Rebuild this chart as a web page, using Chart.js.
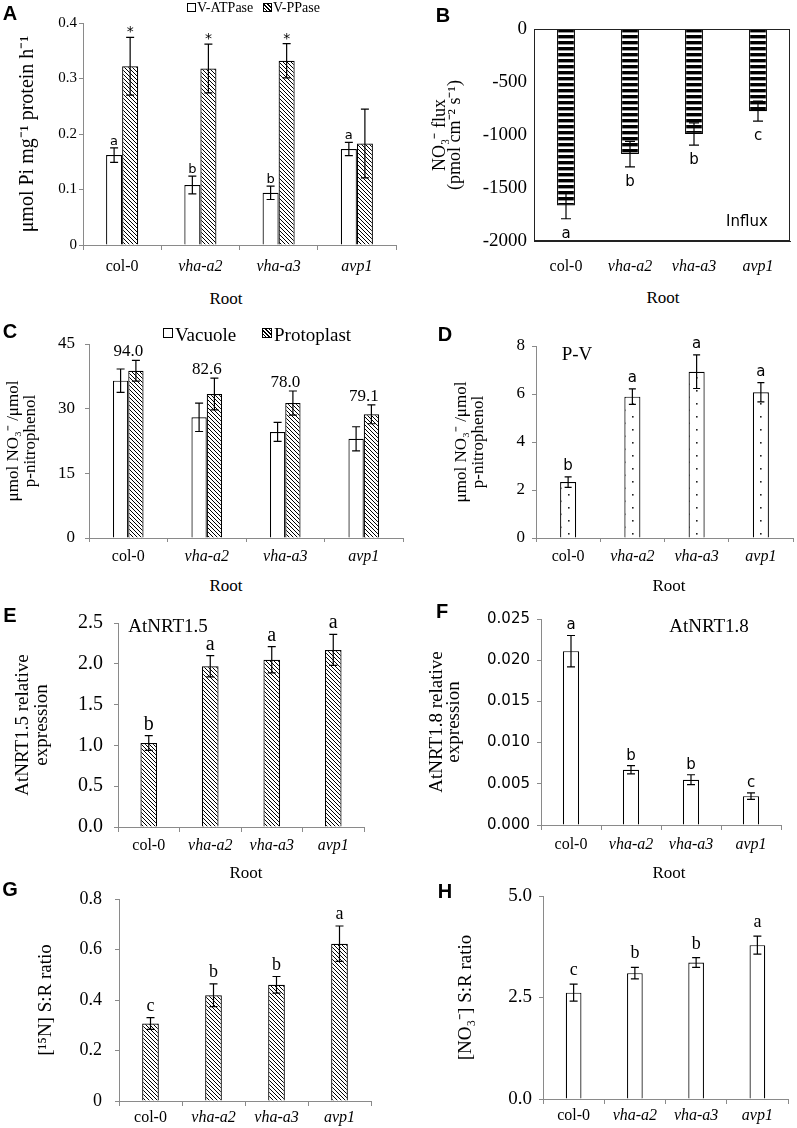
<!DOCTYPE html>
<html>
<head>
<meta charset="utf-8">
<script src="https://cdn.jsdelivr.net/npm/chart.js@4.4.1/dist/chart.umd.min.js"></script>
<style>
  body { margin: 0; background: #fff; }
  #page { position: relative; width: 797px; height: 1128px; overflow: hidden; background: #fff; }
  canvas { position: absolute; }
  .t { position: absolute; white-space: nowrap; color: #000; line-height: 1; }
  .serif { font-family: "Liberation Serif", "Times New Roman", serif; }
  .sans { font-family: "DejaVu Sans", Verdana, sans-serif; }
  .panel { font-family: "Liberation Sans", Arial, sans-serif; font-weight: bold; font-size: 20px; }
  .sw { position: absolute; box-sizing: border-box; border: 1px solid #000; background: #fff; }
  .sw.hatch { background: repeating-linear-gradient(45deg, #fff 0 1.6px, #000 1.6px 2.6px); }
</style>
</head>
<body>
<div id="page"></div>
<script>
// genotypes on every x axis
const categories = ['col-0', 'vha-a2', 'vha-a3', 'avp1'];

// A  hydrolytic activity (umol Pi / mg protein / h)
const atpaseVals = [0.162, 0.108, 0.094, 0.173];
const atpaseErr  = [0.013, 0.016, 0.012, 0.012];
const atpaseSig  = ['a', 'b', 'b', 'a'];
const ppaseVals  = [0.322, 0.318, 0.332, 0.183];
const ppaseErr   = [0.052, 0.044, 0.031, 0.062];
const ppaseSig   = ['*', '*', '*', ''];
const ticksA     = [0, 0.1, 0.2, 0.3, 0.4];

// B  NO3- flux
const fluxVals = [-1665, -1180, -990, -775];
const fluxErr  = [125, 120, 105, 95];
const fluxSig  = ['a', 'b', 'b', 'c'];
const ticksB   = [-2000, -1500, -1000, -500, 0];

// C  vacuole / protoplast nitrate
const vacVals    = [36.5, 28.0, 24.6, 23.0];
const vacErr     = [2.7, 3.3, 2.2, 2.8];
const protoVals  = [38.8, 33.4, 31.3, 28.7];
const protoErr   = [2.4, 3.7, 2.8, 2.2];
const vacPercent = ['94.0', '82.6', '78.0', '79.1'];
const ticksC     = [0, 15, 30, 45];

// D  P-V
const pvVals = [2.33, 5.89, 6.93, 6.07];
const pvErr  = [0.22, 0.32, 0.70, 0.40];
const pvSig  = ['b', 'a', 'a', 'a'];
const ticksD = [0, 2, 4, 6, 8];

// E  AtNRT1.5
const nrt15Vals = [1.03, 1.97, 2.05, 2.17];
const nrt15Err  = [0.09, 0.13, 0.16, 0.19];
const nrt15Sig  = ['b', 'a', 'a', 'a'];
const ticksE    = [0, 0.5, 1.0, 1.5, 2.0, 2.5];

// F  AtNRT1.8
const nrt18Vals = [0.0211, 0.0067, 0.0055, 0.0035];
const nrt18Err  = [0.0019, 0.0005, 0.0006, 0.0004];
const nrt18Sig  = ['a', 'b', 'b', 'c'];
const ticksF    = [0, 0.005, 0.010, 0.015, 0.020, 0.025];

// G  [15N] S:R
const n15Vals = [0.307, 0.419, 0.460, 0.623];
const n15Err  = [0.023, 0.045, 0.033, 0.070];
const n15Sig  = ['c', 'b', 'b', 'a'];
const ticksG  = [0, 0.2, 0.4, 0.6, 0.8];

// H  [NO3-] S:R
const no3Vals = [2.62, 3.10, 3.36, 3.79];
const no3Err  = [0.21, 0.14, 0.12, 0.22];
const no3Sig  = ['c', 'b', 'b', 'a'];
const ticksH  = [0, 2.5, 5.0];

const SERIF = '"Liberation Serif", "Times New Roman", serif';
const SANS = '"DejaVu Sans", Verdana, sans-serif';
const page = document.getElementById('page');

// fill patterns
function makePattern(w, h, draw) {
  const c = document.createElement('canvas');
  c.width = w; c.height = h;
  const g = c.getContext('2d');
  g.fillStyle = '#fff';
  g.fillRect(0, 0, w, h);
  draw(g);
  return g.createPattern(c, 'repeat');
}
const hatch = makePattern(4, 4, g => {
  g.strokeStyle = '#000';
  g.lineWidth = 1;
  g.beginPath();
  g.moveTo(-1, -1); g.lineTo(5, 5);
  g.moveTo(-1, 3); g.lineTo(1, 5);
  g.moveTo(3, -1); g.lineTo(5, 1);
  g.stroke();
});
const stripes = makePattern(4, 6, g => {
  g.fillStyle = '#000';
  g.fillRect(0, 0, 4, 3.4);
});
const dots = makePattern(16, 13, g => {
  g.fillStyle = '#222';
  g.fillRect(3, 3, 1.6, 1.6);
  g.fillRect(11, 9.5, 1.6, 1.6);
});

// error bars, significance letters, numbers over groups
const marksPlugin = {
  id: 'marks',
  afterDatasetsDraw(chart, args, o) {
    const ctx = chart.ctx, ys = chart.scales.y, xs = chart.scales.x;
    const tops = [];
    ctx.save();
    ctx.strokeStyle = '#000';
    ctx.fillStyle = '#000';
    ctx.lineWidth = 1.2;
    ctx.textAlign = 'center';
    ctx.textBaseline = 'alphabetic';
    chart.data.datasets.forEach((ds, i) => {
      chart.getDatasetMeta(i).data.forEach((bar, j) => {
        const x = bar.x;
        const hi = ys.getPixelForValue(ds.data[j] + ds.err[j]);
        const lo = ys.getPixelForValue(ds.data[j] - ds.err[j]);
        ctx.beginPath();
        ctx.moveTo(x, hi); ctx.lineTo(x, lo);
        ctx.moveTo(x - o.cap, hi); ctx.lineTo(x + o.cap, hi);
        ctx.moveTo(x - o.cap, lo); ctx.lineTo(x + o.cap, lo);
        ctx.stroke();
        tops[j] = Math.min(tops[j] === undefined ? Infinity : tops[j], hi);
        const s = ds.sig && ds.sig[j];
        if (s) {
          ctx.font = ds.sigFont;
          if (o.below) ctx.fillText(s, x, lo + ds.sigGap);
          else ctx.fillText(s, x, hi - ds.sigGap);
        }
      });
    });
    if (o.groupText) {
      ctx.font = o.groupFont;
      o.groupText.forEach((t, j) => ctx.fillText(t, xs.getPixelForValue(j), tops[j] - o.groupGap));
    }
    if (o.frame) {
      const a = chart.chartArea;
      ctx.lineWidth = 1;
      ctx.strokeStyle = '#222';
      ctx.strokeRect(Math.round(a.left) + 0.5, Math.round(a.top) + 0.5,
        Math.round(a.right - a.left) - 1, Math.round(a.bottom - a.top) - 1);
    }
    ctx.restore();
  }
};

function makeChart(p) {
  const padTop = 24, xh = 36;
  const top = p.box.t - padTop;
  const cv = document.createElement('canvas');
  cv.width = p.x1 - p.x0;
  cv.height = p.box.b + xh - top;
  cv.style.left = p.x0 + 'px';
  cv.style.top = top + 'px';
  page.appendChild(cv);
  const tf = p.titleFont;
  const lh = tf.size * tf.lineHeight;
  const axisColor = p.axisColor || '#8a8a8a';
  return new Chart(cv, {
    type: 'bar',
    data: { labels: categories, datasets: p.datasets },
    options: {
      responsive: false,
      animation: false,
      events: [],
      layout: { padding: { top: padTop, right: p.x1 - p.box.r, bottom: 0, left: 0 } },
      datasets: { bar: { categoryPercentage: p.cp, barPercentage: 1 } },
      plugins: {
        legend: { display: false },
        tooltip: { enabled: false },
        marks: p.marks
      },
      scales: {
        x: {
          offset: true,
          grid: { offset: true, drawOnChartArea: false, drawTicks: p.xTick > 0, tickLength: p.xTick, color: axisColor },
          border: { color: axisColor },
          ticks: {
            color: '#000', padding: p.xPad, autoSkip: false, maxRotation: 0,
            font: c => ({ family: SERIF, size: 16, style: c.index > 0 ? 'italic' : 'normal' })
          },
          afterFit: s => { s.height = xh; }
        },
        y: {
          min: p.ticks[0],
          max: p.ticks[p.ticks.length - 1],
          afterBuildTicks: s => { s.ticks = p.ticks.map(v => ({ value: v })); },
          grid: { drawOnChartArea: false, drawTicks: p.yTick > 0, tickLength: p.yTick, color: axisColor },
          border: { color: axisColor },
          ticks: { color: '#000', padding: p.yPad, font: p.tickFont, callback: v => p.fmt(v) },
          title: {
            display: true, text: p.title, color: '#000', font: tf,
            padding: { top: p.titleX - p.x0 - lh / 2, bottom: 0 }
          },
          afterFit: s => { s.width = p.box.l - p.x0; }
        }
      }
    },
    plugins: [marksPlugin]
  });
}

function bars(data, err, sig, fill, sigFont, sigGap) {
  return { data, err, sig, sigFont, sigGap, backgroundColor: fill, borderColor: '#000', borderWidth: 1.2 };
}

const fmtPlain = v => String(v);
const fmt1 = v => v.toFixed(1);
const fmt3 = v => v.toFixed(3);

// A
makeChart({
  x0: 0, x1: 410, box: { l: 83, r: 396, t: 23, b: 245 }, cp: 0.41,
  ticks: ticksA, fmt: fmtPlain, tickFont: { family: SERIF, size: 15 }, yTick: 4, yPad: 2,
  xTick: 5, xPad: 7,
  title: 'μmol Pi mg⁻¹ protein h⁻¹', titleX: 28, titleFont: { family: SERIF, size: 20, lineHeight: 1 },
  marks: { cap: 4 },
  datasets: [
    bars(atpaseVals, atpaseErr, atpaseSig, '#fff', '13px ' + SANS, 3),
    bars(ppaseVals, ppaseErr, ppaseSig, hatch, '14px ' + SANS, 1)
  ]
});

// B
makeChart({
  x0: 405, x1: 797, box: { l: 534, r: 790, t: 29, b: 241 }, cp: 0.28, axisColor: '#222',
  ticks: ticksB, fmt: fmtPlain, tickFont: { family: SERIF, size: 19 }, yTick: 0, yPad: 7,
  xTick: 0, xPad: 16,
  title: ['NO₃⁻ flux', '(pmol cm⁻² s⁻¹)'], titleX: 440, titleFont: { family: SERIF, size: 18, lineHeight: 0.85 },
  marks: { cap: 5, below: true, frame: true },
  datasets: [bars(fluxVals, fluxErr, fluxSig, stripes, '15px ' + SANS, 19)]
});

// C
makeChart({
  x0: 0, x1: 410, box: { l: 89, r: 403, t: 344, b: 538 }, cp: 0.39,
  ticks: ticksC, fmt: fmtPlain, tickFont: { family: SERIF, size: 17 }, yTick: 4, yPad: 10,
  xTick: 4, xPad: 5,
  title: ['μmol NO₃⁻ /μmol', 'p-nitrophenol'], titleX: 14, titleFont: { family: SERIF, size: 17, lineHeight: 1 },
  marks: { cap: 4, groupText: vacPercent, groupFont: '17px ' + SERIF, groupGap: 4 },
  datasets: [
    bars(vacVals, vacErr, null, '#fff'),
    bars(protoVals, protoErr, null, hatch)
  ]
});

// D
makeChart({
  x0: 405, x1: 797, box: { l: 536, r: 793, t: 346, b: 538 }, cp: 0.25,
  ticks: ticksD, fmt: fmtPlain, tickFont: { family: SERIF, size: 17 }, yTick: 4, yPad: 7,
  xTick: 4, xPad: 5,
  title: ['μmol NO₃⁻ /μmol', 'p-nitrophenol'], titleX: 462, titleFont: { family: SERIF, size: 17, lineHeight: 0.95 },
  marks: { cap: 3.5 },
  datasets: [bars(pvVals, pvErr, pvSig, dots, '15px ' + SANS, 7)]
});

// E
makeChart({
  x0: 0, x1: 410, box: { l: 118, r: 364, t: 623, b: 827 }, cp: 0.27,
  ticks: ticksE, fmt: fmt1, tickFont: { family: SERIF, size: 20 }, yTick: 4, yPad: 11,
  xTick: 5, xPad: 4,
  title: ['AtNRT1.5 relative', 'expression'], titleX: 23, titleFont: { family: SERIF, size: 19, lineHeight: 1.0 },
  marks: { cap: 4 },
  datasets: [bars(nrt15Vals, nrt15Err, nrt15Sig, hatch, '20px ' + SERIF, 6)]
});

// F
makeChart({
  x0: 405, x1: 797, box: { l: 541, r: 781, t: 619, b: 825 }, cp: 0.27,
  ticks: ticksF, fmt: fmt3, tickFont: { family: SANS, size: 15 }, yTick: 4, yPad: 7,
  xTick: 5, xPad: 5,
  title: ['AtNRT1.8 relative', 'expression'], titleX: 437, titleFont: { family: SERIF, size: 19, lineHeight: 0.92 },
  marks: { cap: 4 },
  datasets: [bars(nrt18Vals, nrt18Err, nrt18Sig, '#fff', '15px ' + SANS, 6)]
});

// G
makeChart({
  x0: 0, x1: 410, box: { l: 119, r: 371, t: 899, b: 1101 }, cp: 0.265,
  ticks: ticksG, fmt: fmtPlain, tickFont: { family: SERIF, size: 18 }, yTick: 4, yPad: 13,
  xTick: 5, xPad: 2,
  title: '[¹⁵N] S:R ratio', titleX: 46, titleFont: { family: SERIF, size: 19, lineHeight: 1 },
  marks: { cap: 4 },
  datasets: [bars(n15Vals, n15Err, n15Sig, hatch, '18px ' + SERIF, 7)]
});

// H
makeChart({
  x0: 405, x1: 797, box: { l: 543, r: 788, t: 896, b: 1099 }, cp: 0.256,
  ticks: ticksH, fmt: fmt1, tickFont: { family: SERIF, size: 19 }, yTick: 4, yPad: 7,
  xTick: 5, xPad: 2,
  title: '[NO₃⁻] S:R ratio', titleX: 466, titleFont: { family: SERIF, size: 19, lineHeight: 1 },
  marks: { cap: 4 },
  datasets: [bars(no3Vals, no3Err, no3Sig, '#fff', '18px ' + SERIF, 9)]
});

// page text: panel letters, "Root" captions, legends, notes
function put(text, x, y, cls, size, anchor) {
  const d = document.createElement('div');
  d.className = 't ' + cls;
  d.textContent = text;
  d.style.left = x + 'px';
  d.style.top = y + 'px';
  if (size) d.style.fontSize = size + 'px';
  d.style.transform = anchor === 'l' ? 'translate(0,-50%)' : 'translate(-50%,-50%)';
  page.appendChild(d);
}
function swatch(x, y, s, hatched) {
  const d = document.createElement('div');
  d.className = 'sw' + (hatched ? ' hatch' : '');
  d.style.left = x + 'px';
  d.style.top = y + 'px';
  d.style.width = s + 'px';
  d.style.height = s + 'px';
  page.appendChild(d);
}

[['A', 10, 13], ['B', 443, 15], ['C', 10, 331], ['D', 445, 334],
 ['E', 10, 615], ['F', 442, 611], ['G', 10, 889], ['H', 445, 891]]
  .forEach(([t, x, y]) => put(t, x, y, 'panel'));

[[226, 298], [663, 297], [226, 585], [669, 585], [246, 872], [669, 872]]
  .forEach(([x, y]) => put('Root', x, y, 'serif', 17));

swatch(187, 3, 9, false);
put('V-ATPase', 197, 8, 'serif', 14, 'l');
swatch(263, 3, 9, true);
put('V-PPase', 273, 8, 'serif', 14, 'l');

swatch(163, 328, 10, false);
put('Vacuole', 175, 334, 'serif', 19, 'l');
swatch(262, 328, 10, true);
put('Protoplast', 274, 334, 'serif', 19, 'l');

put('Influx', 747, 221, 'sans', 15);
put('P-V', 577, 353, 'serif', 19);
put('AtNRT1.5', 168, 625, 'serif', 19);
put('AtNRT1.8', 709, 625, 'serif', 19);
</script>
</body>
</html>
